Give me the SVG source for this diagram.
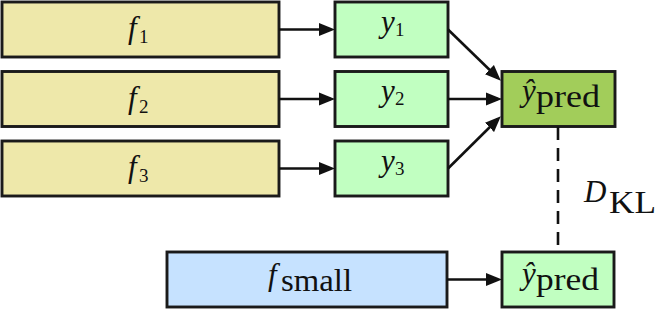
<svg xmlns="http://www.w3.org/2000/svg" width="664" height="309" viewBox="0 0 664 309">
<style>
.box{stroke:#1a1a1a;stroke-width:2.9}
.f{fill:#EEE8AA}
.y{fill:#C1FFC1}
.p{fill:#A2CD5A}
.s{fill:#C6E2FF}
.it{font-family:"Liberation Serif",serif;font-style:italic;font-size:31px;fill:#111}
.sub{font-family:"Liberation Serif",serif;font-size:19px;fill:#111}
.rm{font-family:"Liberation Serif",serif;font-size:32px;fill:#111}
.c{stroke:#111;stroke-width:2.6;fill:none}
</style>
<defs>
<marker id="ah" markerUnits="userSpaceOnUse" markerWidth="18" markerHeight="14" refX="12" refY="7" orient="auto">
<path d="M0,0.5 L16,7 L0,13.5 z" fill="#111"/>
</marker>
</defs>
<g id="f1"><rect class="box f" x="2" y="2" width="277" height="55"/><text class="it" x="128" y="38">f</text><text class="sub" x="139" y="43">1</text></g>
<g id="f2"><rect class="box f" x="2" y="71.5" width="277" height="55"/><text class="it" x="128" y="107.5">f</text><text class="sub" x="139" y="112.5">2</text></g>
<g id="f3"><rect class="box f" x="2" y="141" width="277" height="55"/><text class="it" x="128" y="177">f</text><text class="sub" x="139" y="182">3</text></g>
<g id="y1"><rect class="box y" x="335" y="2" width="113" height="55"/><text class="it" x="381" y="31.5">y</text><text class="sub" x="395" y="35.5">1</text></g>
<g id="y2"><rect class="box y" x="335" y="71.5" width="113" height="55"/><text class="it" x="381" y="101">y</text><text class="sub" x="395" y="105">2</text></g>
<g id="y3"><rect class="box y" x="335" y="141" width="113" height="55"/><text class="it" x="381" y="170.5">y</text><text class="sub" x="395" y="174.5">3</text></g>
<g id="ypred"><rect class="box p" x="502" y="71.5" width="113" height="55"/><text class="it" x="522" y="101">ŷ</text><text class="rm" x="536" y="107" textLength="64" lengthAdjust="spacingAndGlyphs">pred</text></g>
<g id="fsmall"><rect class="box s" x="167" y="252" width="280" height="55"/><text class="it" x="268" y="285">f</text><text class="rm" x="281" y="291" textLength="71" lengthAdjust="spacingAndGlyphs">small</text></g>
<g id="ypred2"><rect class="box y" x="502" y="252" width="112" height="55"/><text class="it" x="522" y="284">ŷ</text><text class="rm" x="536" y="290" textLength="63" lengthAdjust="spacingAndGlyphs">pred</text></g>
<g id="dkl"><text class="it" x="584" y="202">D</text><text class="rm" x="609" y="213" textLength="47" lengthAdjust="spacingAndGlyphs">KL</text></g>
<g id="connectors">
<line class="c" x1="279" y1="29.5" x2="331" y2="29.5" marker-end="url(#ah)"/>
<line class="c" x1="279" y1="99" x2="331" y2="99" marker-end="url(#ah)"/>
<line class="c" x1="279" y1="168.5" x2="331" y2="168.5" marker-end="url(#ah)"/>
<line class="c" x1="448" y1="29.5" x2="498" y2="78" marker-end="url(#ah)"/>
<line class="c" x1="448" y1="99" x2="498" y2="99" marker-end="url(#ah)"/>
<line class="c" x1="448" y1="168.5" x2="498" y2="119" marker-end="url(#ah)"/>
<line class="c" x1="447" y1="279.5" x2="498" y2="279.5" marker-end="url(#ah)"/>
<line class="c" x1="558" y1="127" x2="558" y2="252" stroke-dasharray="13 8"/>
</g>
</svg>
